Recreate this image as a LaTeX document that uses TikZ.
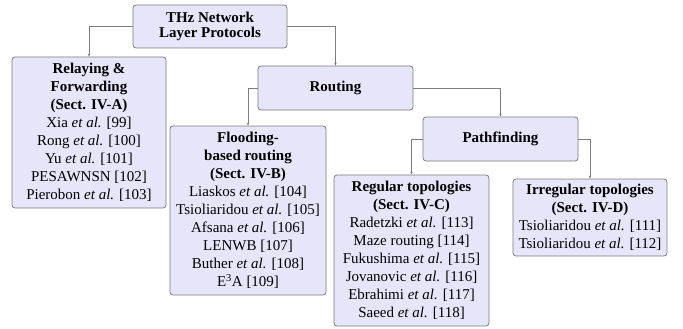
\documentclass[tikz,border=0pt]{standalone}
\usepackage{fontspec}
\setmainfont{Liberation Serif}
\usetikzlibrary{arrows.meta}
\definecolor{boxfill}{RGB}{230,230,250}
\definecolor{boxline}{RGB}{125,125,125}
\begin{document}
\begin{tikzpicture}[x=1pt,y=-1pt,
  box/.style={draw=boxline, fill=boxfill, rounded corners=3pt, line width=0.8pt,
    align=center, inner sep=0pt, font=\fontsize{15}{18}\selectfont},
  conn/.style={draw=boxline, line width=0.7pt, -{Stealth[length=3pt,width=2.5pt]}}]
\useasboundingbox (0,0) rectangle (683,329);
\node[box, minimum width=154, minimum height=43, font=\fontsize{15}{14.5}\selectfont] (top) at (210,26.5)
  {\textbf{THz Network}\\\textbf{Layer Protocols}};
\node[box, minimum width=154, minimum height=151] (rel) at (89,132.5)
  {\textbf{Relaying \&}\\\textbf{Forwarding}\\\textbf{(Sect. IV-A)}\\Xia \textit{et al.} [99]\\Rong \textit{et al.} [100]\\Yu \textit{et al.} [101]\\PESAWNSN [102]\\Pierobon \textit{et al.} [103]};
\node[box, minimum width=155, minimum height=44] (rout) at (335.5,88)
  {\textbf{Routing}};
\node[box, minimum width=156, minimum height=169] (flood) at (248,210.5)
  {\textbf{Flooding-}\\\textbf{based routing}\\\textbf{(Sect. IV-B)}\\Liaskos \textit{et al.} [104]\\Tsioliaridou \textit{et al.} [105]\\Afsana \textit{et al.} [106]\\LENWB [107]\\Buther \textit{et al.} [108]\\E\textsuperscript{3}A [109]};
\node[box, minimum width=155, minimum height=44] (path) at (500.5,139)
  {\textbf{Pathfinding}};
\node[box, minimum width=155, minimum height=151] (reg) at (411.5,250.5)
  {\textbf{Regular topologies}\\\textbf{(Sect. IV-C)}\\Radetzki \textit{et al.} [113]\\Maze routing [114]\\Fukushima \textit{et al.} [115]\\Jovanovic \textit{et al.} [116]\\Ebrahimi \textit{et al.} [117]\\Saeed \textit{et al.} [118]};
\node[box, minimum width=154, minimum height=77] (irr) at (590,217.5)
  {\textbf{Irregular topologies}\\\textbf{(Sect. IV-D)}\\Tsioliaridou \textit{et al.} [111]\\Tsioliaridou \textit{et al.} [112]};
\draw[conn] (top.west) -| (rel.north);
\draw[conn] (top.east) -| (rout.north);
\draw[conn] (rout.west) -| (flood.north);
\draw[conn] (rout.east) -| (path.north);
\draw[conn] (path.west) -| (reg.north);
\draw[conn] (path.east) -| (irr.north);
\end{tikzpicture}
\end{document}
